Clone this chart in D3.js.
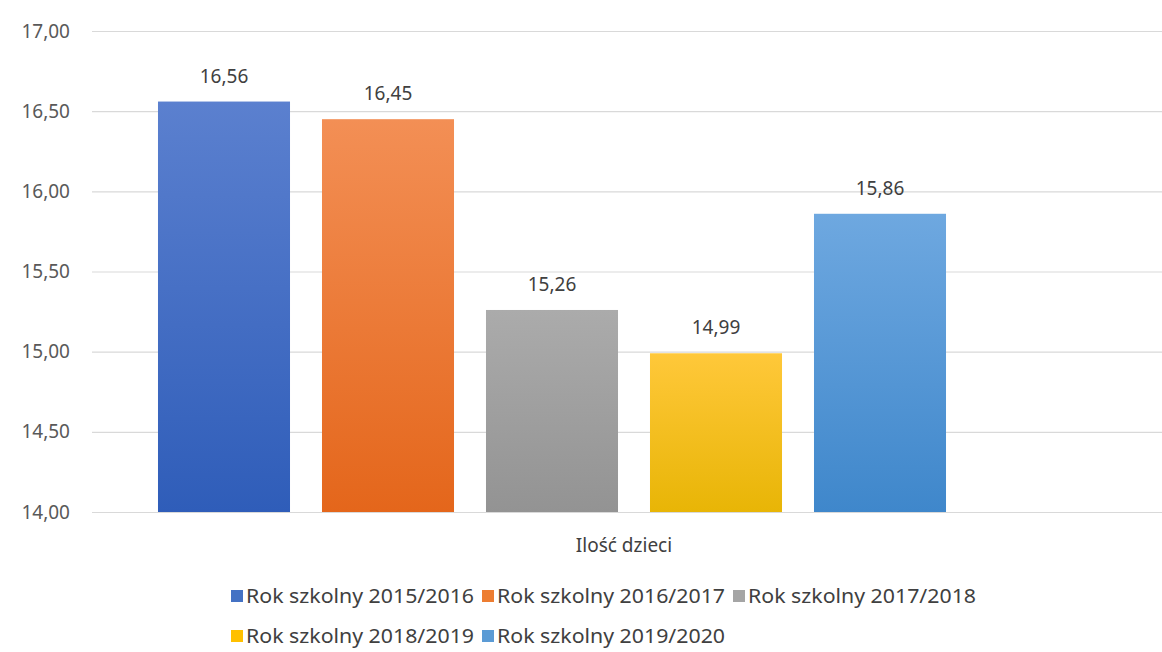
<!DOCTYPE html>
<html>
<head>
<meta charset="utf-8">
<script src="https://cdn.jsdelivr.net/npm/d3@7"></script>
<style>
  body { margin: 0; background: #fff; }
  text { font-family: "Noto Sans", "Open Sans", sans-serif; }
</style>
</head>
<body>
<svg id="chart" width="1162" height="652"></svg>
<script>
var category = "Ilość dzieci";
var seriesNames = ["Rok szkolny 2015/2016", "Rok szkolny 2016/2017", "Rok szkolny 2017/2018",
  "Rok szkolny 2018/2019", "Rok szkolny 2019/2020"];
var values = [16.56, 16.45, 15.26, 14.99, 15.86];
var yTicks = [14, 14.5, 15, 15.5, 16, 16.5, 17];
// top / bottom colours of each bar gradient
var topColors = ["#5b80cf", "#f38f55", "#ababab", "#ffc83a", "#6ea8e0"];
var bottomColors = ["#2f5db9", "#e4661b", "#939393", "#e8b506", "#3f87cb"];
var legendColors = ["#4472c4", "#ed7d31", "#a5a5a5", "#ffc000", "#5b9bd5"];

var svg = d3.select("#chart");
var plotLeft = 92, plotRight = 1162, plotTop = 31, plotBottom = 512;

var fmt = function (v) { return d3.format(".2f")(v).replace(".", ","); };

var y = d3.scaleLinear().domain([14, 17]).range([plotBottom, plotTop]);
var x = d3.scaleBand().domain(seriesNames).range([142, 962]).paddingInner(0.195).paddingOuter(0.0975);

var defs = svg.append("defs");
seriesNames.forEach(function (s, i) {
  var g = defs.append("linearGradient").attr("id", "grad" + i)
    .attr("x1", 0).attr("y1", 0).attr("x2", 0).attr("y2", 1);
  g.append("stop").attr("offset", "0%").attr("stop-color", topColors[i]);
  g.append("stop").attr("offset", "100%").attr("stop-color", bottomColors[i]);
});

// grid lines
svg.append("g")
  .attr("transform", "translate(" + plotLeft + ",0)")
  .call(d3.axisLeft(y).tickValues(yTicks).tickSize(-(plotRight - plotLeft)).tickFormat(""))
  .call(function (g) { g.select(".domain").remove(); })
  .selectAll("line").attr("stroke", "#d9d9d9").attr("stroke-width", 1.2);

// y tick labels
svg.append("g").selectAll("text")
  .data(yTicks).enter().append("text")
  .attr("x", 70).attr("y", function (d) { return y(d); })
  .attr("dy", "0.35em")
  .attr("text-anchor", "end")
  .style("font-size", "19px")
  .attr("fill", "#595959")
  .text(fmt);

var data = seriesNames.map(function (s, i) { return { name: s, value: values[i], i: i }; });

svg.selectAll(".bar").data(data).enter().append("rect")
  .attr("class", "bar")
  .attr("x", function (d) { return x(d.name); })
  .attr("y", function (d) { return y(d.value); })
  .attr("width", x.bandwidth())
  .attr("height", function (d) { return y(14) - y(d.value); })
  .attr("fill", function (d) { return "url(#grad" + d.i + ")"; });

svg.selectAll(".lbl").data(data).enter().append("text")
  .attr("class", "lbl")
  .attr("x", function (d) { return x(d.name) + x.bandwidth() / 2; })
  .attr("y", function (d) { return y(d.value) - 19; })
  .attr("text-anchor", "middle")
  .style("font-size", "19px")
  .attr("fill", "#404040")
  .text(function (d) { return fmt(d.value); });

// category label
svg.append("text")
  .attr("x", 624).attr("y", 552)
  .attr("text-anchor", "middle")
  .style("font-size", "19px")
  .attr("fill", "#404040")
  .text(category);

// legend
var legendRows = [[0, 1, 2], [3, 4]];
legendRows.forEach(function (row, r) {
  var lx = 231;
  var ly = 596 + r * 40;
  row.forEach(function (i) {
    var item = svg.append("g").attr("transform", "translate(" + lx + "," + ly + ")");
    item.append("rect").attr("x", 0).attr("y", -6).attr("width", 12).attr("height", 12)
      .attr("fill", legendColors[i]);
    var t = item.append("text").attr("x", 15).attr("dy", "0.35em")
      .style("font-size", "19px").attr("fill", "#404040")
      .text(seriesNames[i]);
    t.attr("textLength", 228).attr("lengthAdjust", "spacingAndGlyphs");
    lx += 251;
  });
});
</script>
</body>
</html>
